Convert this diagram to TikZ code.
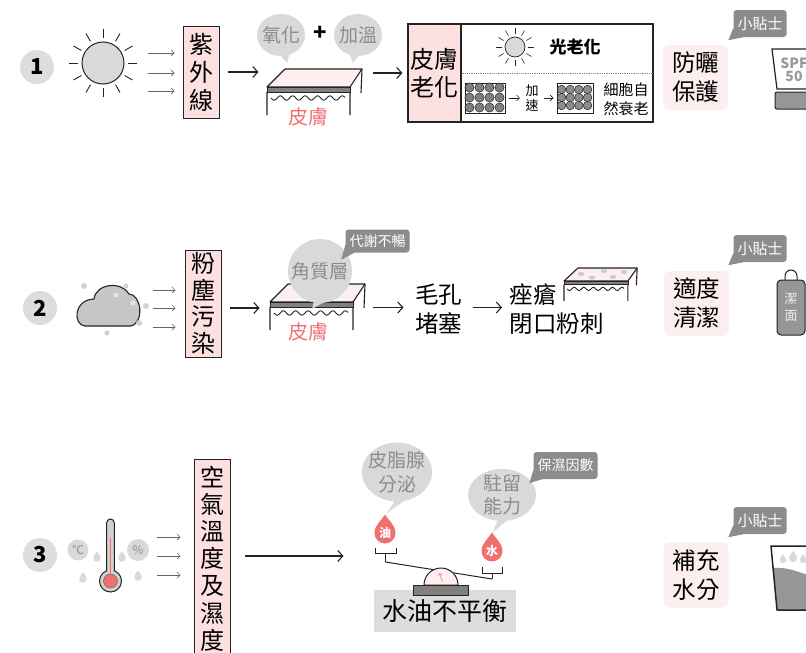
\documentclass[tikz,border=0pt]{standalone}
\usepackage{fontspec}
\setmainfont{Noto Sans CJK TC}
\usetikzlibrary{arrows.meta,calc}
\definecolor{boxpink}{RGB}{253,225,225}
\definecolor{tippink}{RGB}{253,239,239}
\definecolor{skinred}{RGB}{240,112,112}
\definecolor{bubblegray}{RGB}{217,217,217}
\definecolor{numgray}{RGB}{221,221,221}
\definecolor{labelgray}{RGB}{140,140,140}
\definecolor{cupgray}{RGB}{150,150,150}
\definecolor{darkline}{RGB}{35,35,35}

% tear drop, tip up: colour, x, y (centre of the round part), radius
\newcommand{\teardrop}[4]{%
    \fill[#1] (#2,#3-1.75*#4)
        .. controls (#2+0.3*#4,#3-1.25*#4) and (#2+#4,#3-0.75*#4) .. (#2+#4,#3)
        arc[start angle=0, end angle=180, radius=#4]
        .. controls (#2-#4,#3-0.75*#4) and (#2-0.3*#4,#3-1.25*#4) .. cycle;}

% skin block: top face, grey layer, wavy line underneath
\tikzset{
    skin/.pic={
        \draw[darkline, line width=1.1pt, fill=tippink, line join=round]
            (0,0) -- (18,-18) -- (95,-18) -- (83,0) -- cycle;
        \draw[darkline, line width=0.8pt, fill=gray] (0,0) rectangle (83,5);
        \draw[darkline, line width=1.1pt] (0,5) -- (0,28) (83,5) -- (83,28) (95,-18) -- (94,6);
        \draw[darkline, line width=0.9pt]
            plot[domain=4:78, samples=60, smooth] (\x,{11+2.2*sin((\x-4)*29)});
    }
}

\begin{document}
\begin{tikzpicture}[x=1pt, y=-1pt,
    bigarrow/.style={-{Straight Barb[length=5pt,width=11pt]}, darkline, line width=1.1pt},
    smallarrow/.style={-{Straight Barb[length=3pt,width=6pt]}, black!60, line width=0.6pt},
    numcircle/.style={circle, fill=numgray, minimum size=34pt, inner sep=0pt,
        font=\fontsize{22}{22}\selectfont\bfseries},
    titlebox/.style={draw=darkline, line width=1pt, fill=boxpink, inner sep=0pt,
        align=center, font=\fontsize{24}{28}\selectfont},
    tipbox/.style={fill=tippink, rounded corners=6pt, minimum width=65pt,
        minimum height=65pt, align=center, font=\fontsize{23.5}{29}\selectfont},
    bubbletext/.style={text=labelgray, inner sep=0pt, align=center,
        font=\fontsize{19}{24}\selectfont},
    hinttag/.style={fill=labelgray, text=white, rounded corners=3pt, inner xsep=4pt,
        inner ysep=0pt, minimum height=27pt, font=\fontsize{15}{15}\selectfont},
    bodytext/.style={align=left, font=\fontsize{23.5}{29}\selectfont},
    skinlabel/.style={text=skinred, font=\fontsize{20}{20}\selectfont},
    droplabel/.style={text=white, inner sep=0pt, font=\fontsize{12}{12}\selectfont\bfseries},
    cellbox/.style={draw=darkline, line width=1pt, inner sep=0pt, minimum height=30pt}
]
    \useasboundingbox (0,0) rectangle (806,653);
    \clip (0,0) rectangle (806,653);

    % ================= row 1: UV light =================
    \node[numcircle] (n1) at (37,67) {1};
    \node[circle, draw=darkline, line width=1pt, fill=bubblegray, minimum size=42pt,
        inner sep=0pt] (sun) at (103,63) {};
    \foreach \a in {0,30,...,330}
        \draw[darkline, line width=0.9pt, shift={(sun.center)}] (\a:25) -- (\a:34);

    \node[titlebox, minimum width=36pt, minimum height=92pt] (uvbox) at (201,72) {紫\\外\\線};
    \foreach \dy in {-19,1,19}
        \draw[smallarrow] ([shift={(-35,\dy)}]uvbox.west) -- ([shift={(-8,\dy)}]uvbox.west);
    \draw[bigarrow] ([xshift=8pt]uvbox.east) -- ([xshift=39pt]uvbox.east);

    % -- skin with oxidation + heat bubbles --
    \pic at (267,87) {skin};
    \node[skinlabel] (skin1) at (308,117) {皮膚};

    \coordinate (oxid) at (281,35);
    \coordinate (oxidtip) at (287,63);
    \fill[bubblegray] (oxid) ellipse (24 and 21);
    \fill[bubblegray] ($(oxid)+(-3,18)$) -- (oxidtip) -- ($(oxid)+(9,17)$) -- cycle;
    \node[bubbletext] (oxidtext) at (oxid) {氧化};

    \coordinate (heat) at (358,35);
    \coordinate (heattip) at (353,63);
    \fill[bubblegray] (heat) ellipse (24 and 21);
    \fill[bubblegray] ($(heat)+(-9,17)$) -- (heattip) -- ($(heat)+(3,18)$) -- cycle;
    \node[bubbletext] (heattext) at (heat) {加溫};
    \node[font=\fontsize{22}{22}\selectfont\bfseries] (plus) at (320,33) {+};

    % -- skin ageing panel --
    \node[draw=darkline, line width=1.2pt, minimum width=245pt, minimum height=98pt,
        inner sep=0pt] (agebox) at (530.5,73) {};
    \node[titlebox, line width=1.2pt, anchor=north west, minimum width=53pt,
        minimum height=98pt] (agetitle) at (agebox.north west) {皮膚\\老化};
    \draw[bigarrow] ([xshift=-34pt]agetitle.west) -- ([xshift=-5pt]agetitle.west);
    \draw[densely dotted, black!45, line width=0.8pt] (agetitle.east) -- (agebox.east);

    \node[circle, draw=darkline, line width=0.7pt, fill=bubblegray, minimum size=20pt,
        inner sep=0pt] (minisun) at (515,47) {};
    \foreach \a in {0,30,...,330}
        \draw[darkline, line width=0.6pt, shift={(minisun.center)}] (\a:13) -- (\a:19);
    \node[font=\fontsize{17}{17}\selectfont\bfseries] (photo) at (575,47) {光老化};

    \node[cellbox, minimum width=40pt] (cellsA) at (485,98) {};
    \foreach \i in {0,...,3}
        \foreach \j in {0,...,2}
            \draw[darkline, fill=gray, line width=0.5pt]
                ($(cellsA.north west)+(5+\i*10,5+\j*10)$) circle (4.6);
    \node[font=\fontsize{13}{15}\selectfont, align=center] (speed) at (532,98) {加\\速};
    \node[cellbox, minimum width=36pt] (cellsB) at (575,98) {};
    \foreach \i in {0,...,3}
        \foreach \j in {0,...,2}
            \draw[darkline, fill=black!45, line width=0.5pt]
                ($(cellsB.north west)+(5+\i*8.7,7+\j*8)$) circle (4.3);
    \draw[smallarrow, darkline] ([xshift=3pt]cellsA.east) -- ([xshift=-2pt]speed.west);
    \draw[smallarrow, darkline] ([xshift=2pt]speed.east) -- ([xshift=-3pt]cellsB.west);
    \node[font=\fontsize{15}{19}\selectfont, align=left] (natural) at (626,99) {細胞自\\然衰老};

    % -- tip: sunscreen --
    \node[tipbox] (sunscreen) at (695.5,77.5) {防曬\\保護};
    \node[hinttag] (hint1) at (760,23.5) {小貼士};
    \draw[darkline, line width=1.2pt, fill=white] (815,49) -- (772,49) -- (777,89) -- (815,89);
    \draw[darkline, line width=1pt, fill=cupgray, rounded corners=2pt] (775,92) rectangle (822,109);
    \node[text=black!40, align=center, font=\fontsize{14}{13}\selectfont\bfseries] (spf) at (794,70) {SPF\\50};

    % ================= row 2: dust =================
    \node[numcircle] (n2) at (40,308) {2};
    \draw[darkline, line width=1.1pt, fill=black!22]
        (85,326) .. controls (73,325) and (73,300) .. (94,299)
        .. controls (96,283) and (122,281) .. (129,294)
        .. controls (141,294) and (145,322) .. (131,326) -- cycle;
    \foreach \p/\r in {{84,286}/3, {126,286}/2.5, {146,306}/3, {139,323}/3, {107,333}/2.5}
        \fill[black!18] (\p) circle (\r);
    \foreach \p in {{116,295}, {133,303}}
        \fill[black!10] (\p) circle (2.5);

    \node[titlebox, minimum width=36pt, minimum height=107pt,
        font=\fontsize{24}{26.5}\selectfont] (dustbox) at (203,303.5) {粉\\塵\\污\\染};
    \foreach \dy in {-13.5,4.5,23.5}
        \draw[smallarrow] ([shift={(-32,\dy)}]dustbox.west) -- ([shift={(-9,\dy)}]dustbox.west);
    \draw[bigarrow] ([shift={(8,4.5)}]dustbox.east) -- ([shift={(38,4.5)}]dustbox.east);

    \pic at (270,302) {skin};
    \node[skinlabel] (skin2) at (308,332) {皮膚};
    \coordinate (kerat) at (320,271);
    \coordinate (kerattip) at (312,309);
    \fill[bubblegray] (kerat) circle (32);
    \fill[bubblegray] ($(kerat)+(-6,30)$) -- (kerattip) -- ($(kerat)+(6,30)$) -- cycle;
    \node[bubbletext] (kerattext) at (kerat) {角質層};
    \node[hinttag, minimum height=23pt, font=\fontsize{14}{14}\selectfont] (metab) at (377.5,241) {代謝不暢};
    \fill[labelgray] ($(metab.south west)+(0,-8)$) -- ($(metab.south west)+(-4,7)$)
        -- ($(metab.south west)+(9,0)$) -- cycle;

    \node[bodytext, align=center] (pore) at (438.5,309.5) {毛孔\\堵塞};
    \node[bodytext, anchor=west] (acne) at (506,309.5) {痤瘡\\閉口粉刺};
    \draw[bigarrow] ([shift={(-38,-2)}]pore.west) -- ([shift={(-8,-2)}]pore.west);
    \draw[bigarrow] ([shift={(7,-2)}]pore.east) -- ([shift={(-4,-2)}]acne.west);

    \pic[xscale=0.77, yscale=0.72] at (564,281) {skin};
    \foreach \p in {{581,274}, {592,277.5}, {604,271}, {613,277}, {624,272}}
        \fill[black!20] (\p) ellipse (3.2 and 2);

    % -- tip: cleansing --
    \node[tipbox] (cleanse) at (696.5,303.5) {適度\\清潔};
    \node[hinttag] (hint2) at (760,248.5) {小貼士};
    \draw[darkline, line width=1pt] (785,281) -- (785,276) arc[start angle=180, end angle=360, radius=6] -- (797,281);
    \node[draw=darkline, line width=1pt, fill=cupgray, rounded corners=4pt, minimum width=28pt,
        minimum height=55pt, inner sep=0pt, text=white!88!gray, align=center,
        font=\fontsize{13}{17}\selectfont] (cleanser) at (791,307.5) {潔\\面};

    % ================= row 3: temperature and humidity =================
    \node[numcircle] (n3) at (40,555) {3};
    \node[circle, fill=bubblegray, text=labelgray, minimum size=21pt, inner sep=0pt,
        font=\fontsize{12}{12}\selectfont] (celsius) at (78,550) {℃};
    \node[circle, fill=bubblegray, text=labelgray, minimum size=22pt, inner sep=0pt,
        font=\fontsize{12}{12}\selectfont] (percent) at (138,550) {\%};
    \teardrop{bubblegray}{97}{558}{3.8}
    \teardrop{bubblegray}{122}{558}{3.8}
    \teardrop{bubblegray}{83}{579}{3.8}
    \teardrop{bubblegray}{138}{577}{3.8}

    % thermometer: bulb first, open tube on top of it
    \draw[darkline, line width=1pt, fill=black!18] (110.5,581) circle (11);
    \draw[darkline, line width=1pt, fill=black!18]
        (106.7,570.8) -- (106.7,522.8) arc[start angle=180, end angle=360, radius=3.8] -- (114.3,570.8);
    \draw[skinred, line width=1.3pt] (110.5,538) -- (110.5,578);
    \draw[darkline!70, line width=0.5pt, fill=skinred] (110.5,581) circle (7);

    \node[titlebox, minimum width=36pt, minimum height=199pt,
        font=\fontsize{24}{27.2}\selectfont] (airbox) at (212,558.5) {空\\氣\\溫\\度\\及\\濕\\度};
    \foreach \dy in {-21.5,-2.5,16.5}
        \draw[smallarrow] ([shift={(-37,\dy)}]airbox.west) -- ([shift={(-13,\dy)}]airbox.west);
    \draw[bigarrow] ($(airbox.east |- n3)+(14,1)$) -- ($(airbox.east |- n3)+(113,1)$);

    % -- oil / water balance --
    \teardrop{skinred}{385}{533}{10.5}
    \node[droplabel] (oil) at (385,533) {油};
    \teardrop{skinred}{492}{551}{10.5}
    \node[droplabel] (water) at (492,551) {水};

    \coordinate (sebum) at (397,472);
    \coordinate (sebumtip) at ($(oil)+(1,-19)$);
    \fill[bubblegray] (sebum) ellipse (35 and 29.5);
    \fill[bubblegray] ($(sebum)+(-1,27)$) -- (sebumtip) -- ($(sebum)+(11,26)$) -- cycle;
    \node[bubbletext] (sebumtext) at (sebum) {皮脂腺\\分泌};

    \coordinate (retain) at (502,495);
    \coordinate (retaintip) at ($(water)+(1,-19)$);
    \fill[bubblegray] (retain) ellipse (34 and 26);
    \fill[bubblegray] ($(retain)+(-4,24)$) -- (retaintip) -- ($(retain)+(8,23)$) -- cycle;
    \node[bubbletext, font=\fontsize{19}{23}\selectfont] (retaintext) at (retain) {駐留\\能力};
    \node[hinttag, font=\fontsize{14}{14}\selectfont] (moist) at (565.5,465.5) {保濕因數};
    \fill[labelgray] ($(moist.south west)+(0,-9)$) -- ($(moist.south west)+(-4,4)$)
        -- ($(moist.south west)+(9,0)$) -- cycle;

    % balance beam with its two pans
    \coordinate (beamL) at (385.5,562);
    \coordinate (beamR) at (492,579);
    \draw[darkline, line width=1pt] (beamL) -- (beamR);
    \draw[darkline, line width=1pt] (375,548) -- (375,553) -- (396,553) -- (396,548) (385.5,553) -- (beamL);
    \draw[darkline, line width=1pt] (482,567) -- (482,573) -- (502,573) -- (502,567) (492,573) -- (beamR);

    \node[fill=numgray, minimum width=142pt, minimum height=42pt, inner sep=0pt,
        font=\fontsize{25}{25}\selectfont] (imbalance) at (445,611) {水油不平衡};
    \draw[darkline, line width=1pt, fill=tippink]
        (424,585) arc[start angle=180, end angle=360, radius=17] -- cycle;
    \draw[-{Straight Barb[length=2pt,width=3.5pt]}, skinred, line width=0.5pt] (442.5,582) -- (439.5,573);
    \draw[darkline, line width=1pt, fill=gray] (413,585) rectangle (468,595);

    % -- tip: moisturise --
    \node[tipbox] (hydrate) at (696,575) {補充\\水分};
    \node[hinttag] (hint3) at (760,520.5) {小貼士};
    \fill[cupgray] (773.1,568) .. controls (790,567) and (796,572) .. (815,577)
        -- (815,610) -- (777,610) -- cycle;
    \teardrop{bubblegray}{783}{560}{3.2}
    \teardrop{bubblegray}{793}{558}{4}
    \teardrop{bubblegray}{803}{560}{3.2}
    \draw[darkline, line width=1.5pt, line join=round] (815,546) -- (771,546) -- (777,610) -- (815,610);

    % tails of the hint tags
    \foreach \h in {hint1,hint2,hint3}
        \fill[labelgray] ($(\h.south west)+(0,-9)$) -- ($(\h.south west)+(-5,3)$)
            -- ($(\h.south west)+(10,0)$) -- cycle;

\end{tikzpicture}
\end{document}
